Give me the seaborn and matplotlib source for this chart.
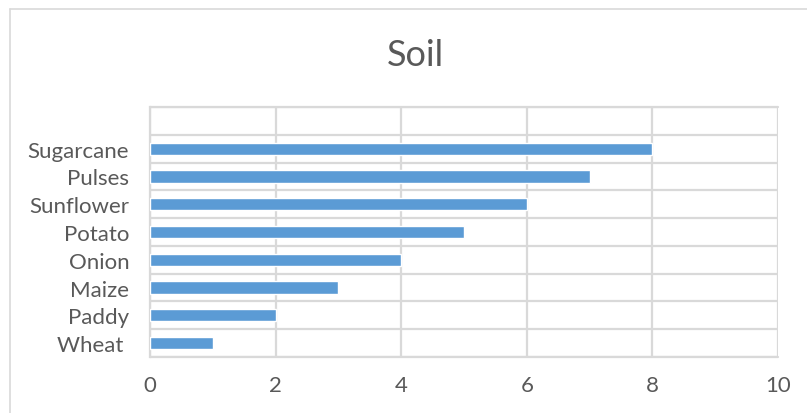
import matplotlib
matplotlib.use("Agg")
import matplotlib.pyplot as plt
import seaborn as sns
import pandas as pd
import numpy as np
from matplotlib.lines import Line2D

crops = ["Sugarcane", "Pulses", "Sunflower", "Potato", "Onion", "Maize", "Paddy", "Wheat "]
values = [8, 7, 6, 5, 4, 3, 2, 1]
xticks = [0, 2, 4, 6, 8, 10]
title = "Soil"

sns.set_theme(style="white")
plt.rcParams["font.family"] = ["Lato", "DejaVu Sans"]

df = pd.DataFrame({"crop": crops, "value": values})

fig = plt.figure(figsize=(8.07, 4.14), dpi=100)
ax = fig.add_axes([150/807, 1-358/414, (778-150)/807, (358-108)/414])

sns.barplot(data=df, x="value", y="crop", orient="h", color="#5B9BD5",
            width=0.44, saturation=1, ax=ax, zorder=3)

ax.set_xlim(0, 10)
ax.set_ylim(len(crops) - 0.5, -1.5)
ax.set_xticks(xticks)
ax.set_xticklabels([str(t) for t in xticks])
ax.set_yticks(np.arange(-1.5, len(crops), 1), minor=True)
ax.grid(True, which="major", axis="x", color="#D9D9D9", linewidth=1.6, zorder=0)
ax.grid(True, which="minor", axis="y", color="#D9D9D9", linewidth=1.6, zorder=0)
ax.axhline(-1.5, color="#D9D9D9", linewidth=1.6, clip_on=False, zorder=0)
ax.axhline(len(crops) - 0.5, color="#D9D9D9", linewidth=1.6, clip_on=False, zorder=0)
ax.set_axisbelow(True)
ax.set_xlabel("")
ax.set_ylabel("")
for s in ["top", "right", "bottom"]:
    ax.spines[s].set_visible(False)
ax.spines["left"].set_color("#D9D9D9")
ax.spines["left"].set_linewidth(1.6)
ax.tick_params(axis="both", which="both", length=0, labelsize=16, colors="#595959")
ax.tick_params(axis="y", pad=15)
ax.tick_params(axis="x", pad=13)

fig.text(415/807, 1-55/414, title, ha="center", va="center", fontsize=26, color="#595959")

fig.add_artist(Line2D([10/807, 10/807], [0, 1-10/414], color="#D9D9D9", linewidth=1.2, transform=fig.transFigure))
fig.add_artist(Line2D([10/807, 1], [1-10/414, 1-10/414], color="#D9D9D9", linewidth=1.2, transform=fig.transFigure))

fig.savefig("out.png", dpi=100, facecolor="white")
